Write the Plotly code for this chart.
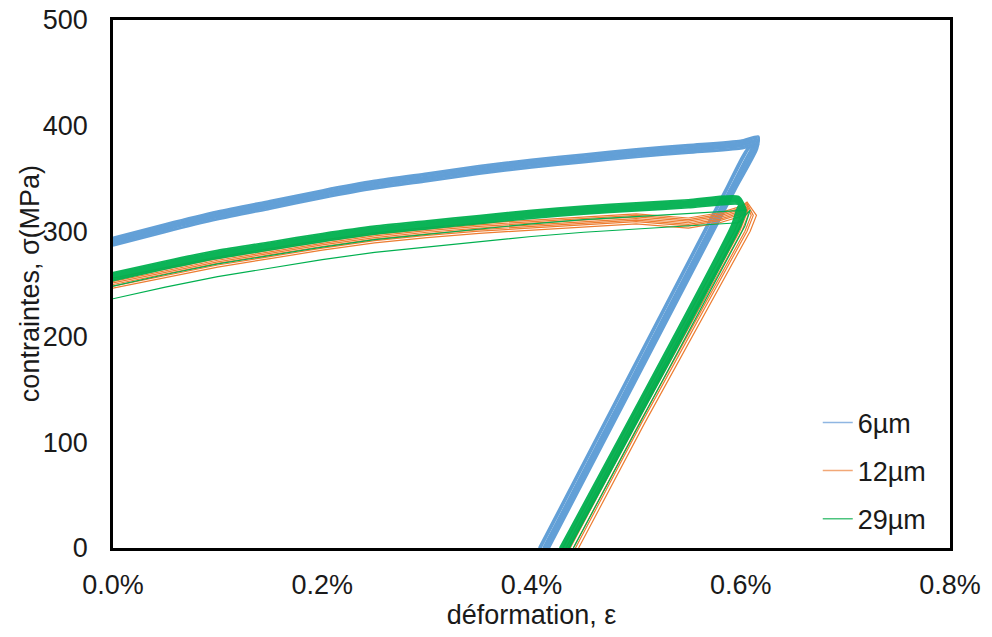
import plotly.graph_objects as go

# ---------------- data (strain in %, stress in MPa) ----------------
SERIES_NAMES = ["6µm", "12µm", "29µm"]
X_TICKS = [0.0, 0.2, 0.4, 0.6, 0.8]
X_TICK_LABELS = ["0.0%", "0.2%", "0.4%", "0.6%", "0.8%"]
Y_TICKS = [0, 100, 200, 300, 400, 500]

# 6 µm : loading branch + unloading branch, cycle-to-cycle shifts
LOAD_STRAIN_6 = [0.00, 0.05, 0.10, 0.15, 0.20, 0.25, 0.30, 0.35, 0.40, 0.45, 0.50, 0.55, 0.60, 0.617]
LOAD_STRESS_6 = [290, 303, 315, 325, 335, 344, 351, 358, 364, 369, 374, 378, 382, 386]
UNLOAD_STRAIN_6 = [0.611, 0.590, 0.412]
UNLOAD_STRESS_6 = [378, 339, 0]
DSTRESS_6 = [-4.0, -3.0, -2.0, -1.0, -0.3, 0.3, 1.0, 2.0, 3.0, 4.0]
DSTRAIN_6 = [-0.005, -0.004, -0.003, -0.001, 0.000, 0.001, 0.002, 0.003, 0.004, 0.005]

# 12 µm
LOAD_STRAIN_12 = [0.00, 0.05, 0.10, 0.15, 0.20, 0.25, 0.30, 0.35, 0.40, 0.45, 0.50, 0.55, 0.58, 0.60, 0.606]
LOAD_STRESS_12 = [252, 262, 272, 280, 288, 295, 300, 304, 307, 310, 313, 309, 314, 320, 324]
UNLOAD_STRAIN_12 = [0.607, 0.601, 0.500, 0.437]
UNLOAD_STRESS_12 = [315, 300, 118, 0]
DSTRESS_12 = [-6.0, -4.0, -2.5, -1.0, 0.5, 2.0, 3.5]
DSTRAIN_12 = [-0.007, -0.004, -0.002, 0.000, 0.003, 0.005, 0.008]

# 29 µm (main bundle)
LOAD_STRAIN_29 = [0.00, 0.05, 0.10, 0.15, 0.20, 0.25, 0.30, 0.35, 0.40, 0.45, 0.50, 0.55, 0.598]
LOAD_STRESS_29 = [257, 268, 278, 286, 294, 301, 306, 311, 316, 320, 323, 326, 329]
UNLOAD_STRAIN_29 = [0.601, 0.596, 0.432]
UNLOAD_STRESS_29 = [320, 305, 0]
DSTRESS_29 = [-3.8, -2.8, -2.0, -1.2, -0.4, 0.4, 1.2, 2.0, 2.8, 3.8]
DSTRAIN_29 = [-0.005, -0.004, -0.003, -0.002, -0.001, 0.000, 0.001, 0.002, 0.003, 0.004]
# 29 µm (two low outlier cycles)
DSTRESS_29_LOW = [-21.0, -9.0]
DSTRAIN_29_LOW = [0.008, 0.004]

COLORS = {"6µm": "#5B9BD5", "12µm": "#ED7D31", "29µm": "#00B050"}
LEGEND_COLORS = {"6µm": "#8FB6E2", "12µm": "#F2A877", "29µm": "#4CC47E"}


def build_cycles(ls, lsig, us, usig, dsig, deps):
    xs, ys = [], []
    for dy, dx in zip(dsig, deps):
        xs += list(ls) + [u + dx for u in us] + [None]
        ys += [s + dy for s in lsig] + list(usig) + [None]
    return xs, ys


fig = go.Figure()

x6, y6 = build_cycles(LOAD_STRAIN_6, LOAD_STRESS_6, UNLOAD_STRAIN_6, UNLOAD_STRESS_6, DSTRESS_6, DSTRAIN_6)
x12, y12 = build_cycles(LOAD_STRAIN_12, LOAD_STRESS_12, UNLOAD_STRAIN_12, UNLOAD_STRESS_12, DSTRESS_12, DSTRAIN_12)
x29, y29 = build_cycles(LOAD_STRAIN_29, LOAD_STRESS_29, UNLOAD_STRAIN_29, UNLOAD_STRESS_29, DSTRESS_29, DSTRAIN_29)
x29l, y29l = build_cycles(LOAD_STRAIN_29, LOAD_STRESS_29, UNLOAD_STRAIN_29, UNLOAD_STRESS_29, DSTRESS_29_LOW, DSTRAIN_29_LOW)

fig.add_trace(go.Scatter(x=x6, y=y6, mode="lines", line=dict(color=COLORS["6µm"], width=1.8, shape="spline", smoothing=0.6),
                         opacity=0.95, showlegend=False, hoverinfo="skip"))
fig.add_trace(go.Scatter(x=x12, y=y12, mode="lines", line=dict(color=COLORS["12µm"], width=1.2),
                         showlegend=False, hoverinfo="skip"))
fig.add_trace(go.Scatter(x=x29l, y=y29l, mode="lines", line=dict(color=COLORS["29µm"], width=1.2),
                         showlegend=False, hoverinfo="skip"))
fig.add_trace(go.Scatter(x=x29, y=y29, mode="lines", line=dict(color=COLORS["29µm"], width=1.7, shape="spline", smoothing=0.6),
                         opacity=0.95, showlegend=False, hoverinfo="skip"))

# legend entries
for name in SERIES_NAMES:
    fig.add_trace(go.Scatter(x=[None], y=[None], mode="lines", name=name, legendgroup=name,
                             line=dict(color=LEGEND_COLORS[name], width=1.5)))

FONT = "Liberation Sans, Arial, sans-serif"
TXT = "#1a1a1a"

fig.update_layout(
    width=992, height=637,
    margin=dict(l=113, r=42, t=20, b=89),
    paper_bgcolor="white", plot_bgcolor="white",
    font=dict(family=FONT, size=27, color=TXT),
    legend=dict(x=0.842, xanchor="left", y=0.146, yanchor="middle",
                bgcolor="rgba(0,0,0,0)", font=dict(size=27, color=TXT),
                tracegroupgap=10),
    xaxis=dict(range=[0, 0.8], tickvals=X_TICKS, ticktext=X_TICK_LABELS, automargin=False,
               showline=True, linecolor="black", linewidth=2.5, mirror=True,
               showgrid=False, zeroline=False, ticks="", ticklabelstandoff=11,
               ticklabeloverflow="allow",
               title=dict(text="déformation, ε", font=dict(size=27, color=TXT), standoff=0)),
    yaxis=dict(range=[0, 500], tickvals=Y_TICKS, automargin=False,
               showline=True, linecolor="black", linewidth=2.5, mirror=True,
               showgrid=False, zeroline=False, ticks="", ticklabelstandoff=17,
               ticklabeloverflow="allow"),
    annotations=[dict(text="contraintes, σ(MPa)", textangle=-90, xref="paper", yref="paper",
                      x=-0.099, y=0.5, xanchor="center", yanchor="middle", showarrow=False,
                      font=dict(size=27, color=TXT))],
)

# remove the default 8px page margin so the figure fills the 992x637 window exactly
fig.write_html("out.html", config={"displayModeBar": False},
               post_script="document.body.style.margin='0px';")
